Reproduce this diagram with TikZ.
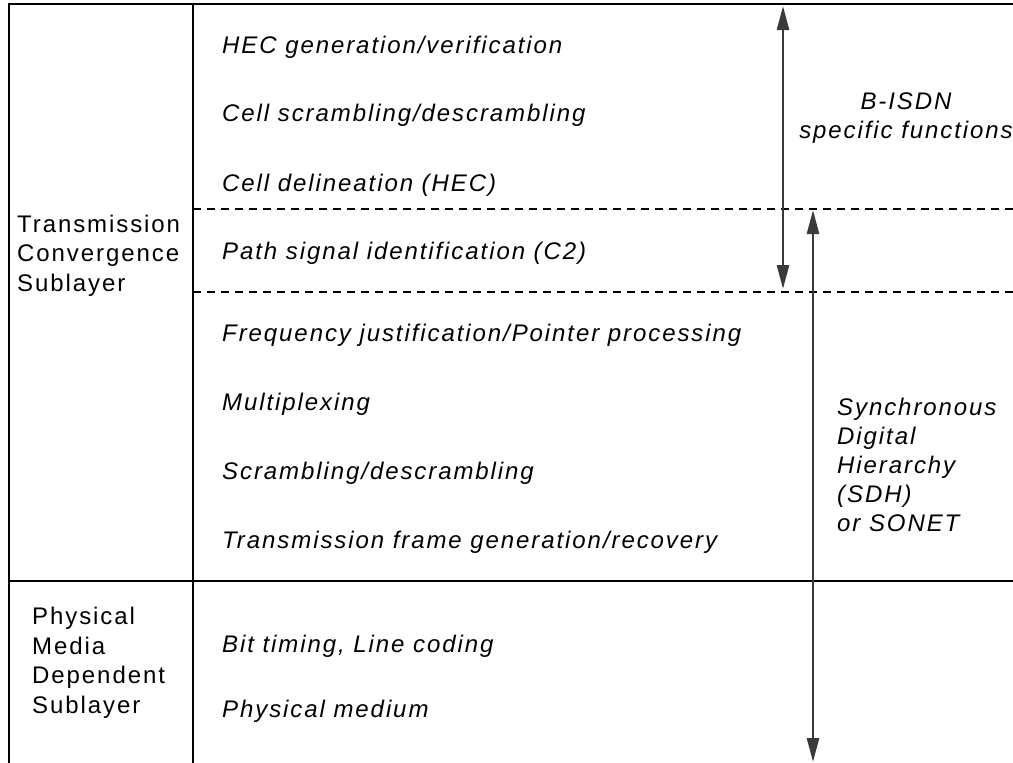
\documentclass[tikz,border=0pt]{standalone}
\usepackage{fontspec}
\setmainfont{Liberation Sans}[LetterSpace=8]
\usetikzlibrary{arrows.meta}
\tikzset{
  frame/.style={line width=2.6pt, black},
  sep/.style={line width=2pt, black, dash pattern=on 8pt off 6pt},
  span/.style={line width=2.6pt, draw={rgb,255:red,58;green,58;blue,58}, {Triangle[length=24pt,width=12pt]}-{Triangle[length=24pt,width=12pt]}},
  item/.style={anchor=base west, inner sep=0pt, font=\fontsize{24}{29}\selectfont\itshape},
  side/.style={anchor=base west, inner sep=0pt, font=\fontsize{24}{29.5}\selectfont, align=left},
  note/.style={inner sep=0pt, font=\fontsize{24}{29}\selectfont\itshape}
}
\begin{document}
\begin{tikzpicture}[x=1pt,y=-1pt]
\useasboundingbox (0,0) rectangle (1013,763);
% frame
\draw[frame] (1013,4) -- (9,4) -- (9,763);
\draw[frame] (193,4) -- (193,763);
\draw[frame] (9,581) -- (1013,581);
\draw[sep] (193,209) -- (1013,209);
\draw[sep] (193,292) -- (1013,292);
% arrows
\coordinate (a1t) at (783,6);
\coordinate (a1b) at (783,289);
\coordinate (a2t) at (813,210);
\coordinate (a2b) at (813,762);
\draw[span] (a1t) -- (a1b);
\draw[span] (a2t) -- (a2b);
% items
\node[item] (i1) at (222,53) {HEC generation/verification};
\node[item] (i2) at (222,121) {Cell scrambling/descrambling};
\node[item] (i3) at (222,191) {Cell delineation (HEC)};
\node[item] (i4) at (222,259) {Path signal identification (C2)};
\node[item] (i5) at (222,341) {Frequency justification/Pointer processing};
\node[item] (i6) at (222,410) {Multiplexing};
\node[item] (i7) at (222,479) {Scrambling/descrambling};
\node[item] (i8) at (222,548) {Transmission frame generation/recovery};
\node[item] (i9) at (222,652) {Bit timing, Line coding};
\node[item] (i10) at (222,717) {Physical medium};
% side labels (anchor = baseline of last line)
\node[side] (tc) at (17,291) {Transmission\\Convergence\\Sublayer};
\node[side] (pmd) at (32,713) {Physical\\Media\\Dependent\\Sublayer};
% notes
\node[note, align=center, anchor=base] (bisdn) at (906,138) {B-ISDN\\specific functions};
\node[note, align=left, anchor=base west] (sdh) at (837,531) {Synchronous\\Digital\\Hierarchy\\(SDH)\\or SONET};
\end{tikzpicture}
\end{document}
